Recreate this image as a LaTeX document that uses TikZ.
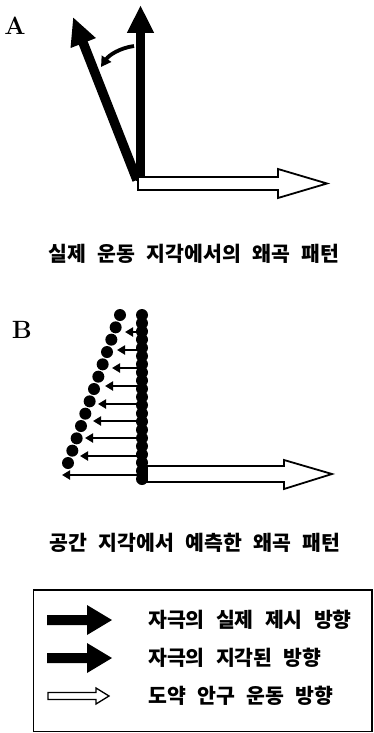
\documentclass[tikz,border=0pt]{standalone}
\usepackage{fontspec}
\usetikzlibrary{arrows.meta}
\newfontfamily\krfont{Noto Sans CJK KR}[WordSpace=2.4]
\begin{document}
\begin{tikzpicture}[x=1pt,y=-1pt,
  thickarrow/.style={line width=9.5pt,-{Triangle[length=28pt,width=25pt]}},
  hollowarrow/.style={draw=black,line width=1.8pt,fill=white,line join=miter},
  captiontext/.style={font=\krfont\bfseries\fontsize{20.5}{22}\selectfont, inner sep=0pt},
  legtext/.style={captiontext, anchor=west},
  panellabel/.style={font=\bfseries\fontsize{25}{27}\selectfont, inner sep=0pt},
  smallarrow/.style={line width=2.8pt,-{Triangle[length=8pt,width=9pt]}}
]
\fill[white] (0,0) rectangle (373,733);
\useasboundingbox (0,0) rectangle (373,733);

% ---------- Panel A ----------
\node[panellabel] (labA) at (15,26) {A};
\coordinate (oA) at (140.5,181);
\coordinate (tipV) at (140.5,5);
\coordinate (oT) at (137,180);
\coordinate (tipT) at (73,17);
\draw[thickarrow] (oA) -- (tipV);
\draw[thickarrow] (oT) -- (tipT);
\coordinate (cs) at (134,46);
\coordinate (ce) at (101,67);
\draw[line width=3.8pt,-{Triangle[length=10pt,width=11pt]}] (cs) .. controls (120,48) and (109,55) .. (ce);
\filldraw[hollowarrow] (138,177) -- (278,177) -- (278,169) -- (327,183.5) -- (278,198) -- (278,190) -- (138,190) -- cycle;

\node[captiontext] (capA) at (194,254) {실제 운동 지각에서의 왜곡 패턴};

% ---------- Panel B ----------
\node[panellabel] (labB) at (22,330) {B};
\foreach \y/\x in {332/125, 350/117, 368/112, 386/105, 404/98, 421/93, 438/85, 456/80, 475/62}
  \draw[smallarrow] (142,\y) -- (\x,\y);
\foreach \i in {0,...,20}
  \fill (142,315+8.2*\i) circle (6pt);
\foreach \i in {0,...,12}
  \fill ({120-52*\i/12},{315+148*\i/12}) circle (6pt);
\filldraw[hollowarrow] (147,466) -- (284,466) -- (284,460) -- (332,474) -- (284,489) -- (284,482) -- (147,482) -- cycle;

\node[captiontext] (capB) at (195,543) {공간 지각에서 예측한 왜곡 패턴};

% ---------- Legend ----------
\draw[line width=1.5pt] (33.5,590) rectangle (372,731.5);
\fill (47,615) -- (87,615) -- (87,605) -- (112,620) -- (87,635) -- (87,625) -- (47,625) -- cycle;
\fill (47,653) -- (87,653) -- (87,643) -- (112,658) -- (87,673) -- (87,663) -- (47,663) -- cycle;
\filldraw[hollowarrow,line width=1.3pt] (48,692.5) -- (96,692.5) -- (96,688) -- (109,696) -- (96,704) -- (96,699.5) -- (48,699.5) -- cycle;
\node[legtext] (leg1) at (148,620) {자극의 실제 제시 방향};
\node[legtext] (leg2) at (148,658) {자극의 지각된 방향};
\node[legtext] (leg3) at (148,696) {도약 안구 운동 방향};
\end{tikzpicture}
\end{document}
